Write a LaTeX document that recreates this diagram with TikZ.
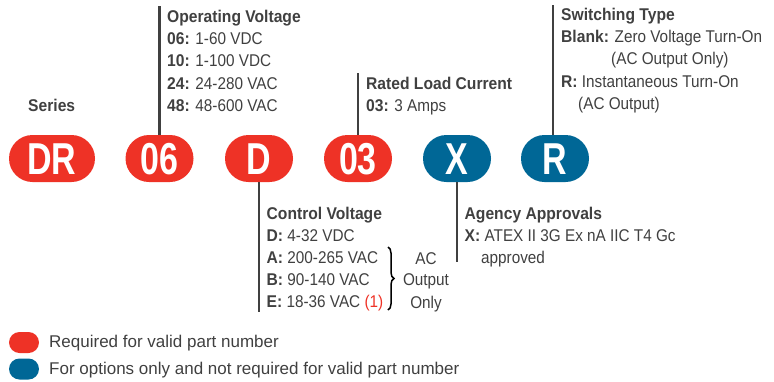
\documentclass[tikz,border=0pt]{standalone}
\usepackage{fontspec}
\setmainfont{Liberation Sans}[FakeStretch=0.9, BoldFeatures={FakeStretch=0.92}]
\newfontfamily\pillfont{Liberation Sans}[FakeStretch=0.76]
\newfontfamily\legfont{Liberation Sans}
\usetikzlibrary{shapes.misc,decorations.pathreplacing}
\definecolor{reqred}{RGB}{238,50,38}
\definecolor{optblue}{RGB}{0,103,150}
\definecolor{inkgray}{RGB}{64,64,64}
\tikzset{
  pill/.style={rounded rectangle, fill=#1, text=white, minimum width=68pt, minimum height=47pt,
    inner sep=0pt, text height=32pt, text depth=0pt, font=\pillfont\fontsize{44.7}{50}\selectfont\bfseries},
  legpill/.style={rounded rectangle, fill=#1, minimum width=30pt, minimum height=21pt, inner sep=0pt},
  lbl/.style={anchor=base west, inner sep=0pt, text=inkgray, font=\fontsize{17}{20}\selectfont},
  head/.style={lbl, font=\fontsize{17}{20}\selectfont\bfseries},
  leg/.style={lbl, font=\legfont\fontsize{17}{20}\selectfont},
  lead/.style={line width=2.6pt, draw=inkgray},
}
\begin{document}
\begin{tikzpicture}[x=1pt, y=-1pt]
  \useasboundingbox (0,0) rectangle (774,381);

  % part number pills
  \node[pill=reqred, minimum width=86pt] at (52,158.5)  (dr) {DR};
  \node[pill=reqred]  at (159.5,158.5) (ov) {06};
  \node[pill=reqred]  at (259,158.5)   (cv) {D};
  \node[pill=reqred]  at (358,158.5)   (lc) {03};
  \node[pill=optblue] at (457,158.5)   (ag) {X};
  \node[pill=optblue] at (555,158.5)   (sw) {R};

  % leaders
  \coordinate (ovend) at (159.5,6);
  \coordinate (lcend) at (358,73);
  \coordinate (swend) at (553,5);
  \coordinate (cvend) at (259,312);
  \coordinate (agend) at (457,262);
  \draw[lead] (ov.north) -- (ovend);
  \draw[lead] (lc.north) -- (lcend);
  \draw[lead] (swend |- sw.north) -- (swend);
  \draw[lead] (cv.south) -- (cvend);
  \draw[lead] (ag.south) -- (agend);

  % series
  \node[head] at (28,111) (series) {Series};

  % operating voltage
  \node[head] at (167,22.5) (ovhead) {Operating Voltage};
  \node[lbl] at (167,44)  {\textbf{06:} 1-60 VDC};
  \node[lbl] at (167,66.5) {\textbf{10:} 1-100 VDC};
  \node[lbl] at (167,89)  {\textbf{24:} 24-280 VAC};
  \node[lbl] at (167,111) {\textbf{48:} 48-600 VAC};

  % rated load current
  \node[head] at (366,89)  (lchead) {Rated Load Current};
  \node[lbl] at (366,111) {\textbf{03:} 3 Amps};

  % switching type
  \node[head] at (561,20.5) (swhead) {Switching Type};
  \node[lbl] at (561,42.5) {\textbf{Blank:} Zero Voltage Turn-On};
  \node[lbl] at (611,64.5) {(AC Output Only)};
  \node[lbl] at (561,87)   {\textbf{R:} Instantaneous Turn-On};
  \node[lbl] at (578,109)  {(AC Output)};

  % control voltage
  \node[head] at (266.5,219) (cvhead) {Control Voltage};
  \node[lbl] at (266.5,241)   {\textbf{D:} 4-32 VDC};
  \node[lbl] at (266.5,263.3) {\textbf{A:} 200-265 VAC};
  \node[lbl] at (266.5,285.7) {\textbf{B:} 90-140 VAC};
  \node[lbl] at (266.5,307.5) {\textbf{E:} 18-36 VAC \textcolor{reqred}{(1)}};
  \draw[decorate, decoration={brace, amplitude=6pt}, line width=1.5pt, draw=black]
    (388,247) -- (388,310);
  \node[lbl, anchor=base] at (426,264)   {AC};
  \node[lbl, anchor=base] at (426,285.7) {Output};
  \node[lbl, anchor=base] at (426,308)   {Only};

  % agency approvals
  \node[head] at (464.5,219) (aghead) {Agency Approvals};
  \node[lbl] at (464.5,241) {\textbf{X:} ATEX II 3G Ex nA IIC T4 Gc};
  \node[lbl] at (481,263)   {approved};

  % legend
  \node[legpill=reqred]  at (24,342.5) (legreq) {};
  \node[legpill=optblue] at (24,369)   (legopt) {};
  \node[leg] at (49,347.3) {Required for valid part number};
  \node[leg] at (49,374)   {For options only and not required for valid part number};
\end{tikzpicture}
\end{document}
